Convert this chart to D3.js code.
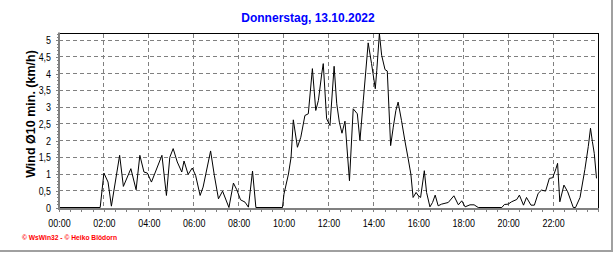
<!DOCTYPE html>
<html>
<head>
<meta charset="utf-8">
<script src="https://cdn.jsdelivr.net/npm/d3@7"></script>
<style>
  body { margin: 0; background: #fff; }
  text { font-family: Arial, "Liberation Sans", sans-serif; }
</style>
</head>
<body>
<div id="chart-area"></div>
<script>
// Wind 10 min. average - Donnerstag 13.10.2022
var titleText = "Donnerstag, 13.10.2022";
var yLabelText = "Wind Ø10 min. (km/h)";
var creditText = "© WsWin32 - © Heiko Blödorn";

// time of each point, minutes after midnight
var minutes = [0,110,120,131,140,162,172,192,206,216,227,236,247,275,287,296,305,316,328,334,
  345,356,365,377,385,405,415,426,437,454,466,475,485,497,506,517,526,597,601,613,
  620,626,637,646,657,666,677,686,693,702,706,715,724,735,742,749,756,764,776,786,
  797,804,813,826,835,845,849,856,862,871,877,886,893,900,906,915,924,933,940,946,
  954,960,966,976,982,991,998,1005,1013,1022,1040,1055,1067,1076,1085,1098,1109,1120,1183,1190,
  1200,1209,1223,1230,1241,1249,1261,1270,1280,1289,1300,1310,1319,1328,1332,1338,1349,1359,1374,1380,
  1392,1405,1414,1420,1425,1430,1436];
// wind speed km/h
var wind = [0,0,1.03,0.76,0.04,1.56,0.63,1.16,0.53,1.56,1.06,1.03,0.76,1.56,0.36,1.5,1.76,1.36,1.06,1.39,
  0.99,1.18,0.96,0.36,0.61,1.69,0.96,0.26,0.49,0,0.73,0.53,0.23,0.16,0.01,1.09,0,0,0.4,1.0,
  1.5,2.62,1.8,2.1,2.75,2.8,4.15,2.9,3.2,4.0,4.3,2.65,2.45,4.22,3.1,2.55,2.22,2.58,0.8,2.95,
  2.8,2.0,3.2,4.92,4.3,3.55,4.1,5.2,4.55,4.12,4.08,1.85,2.4,2.9,3.15,2.6,2.0,1.45,1.0,0.3,
  0.45,0.35,0.3,1.1,0.45,0.02,0.15,0.37,0.05,0.1,0.15,0.35,0.08,0.2,0.02,0.08,0.08,0,0,0.09,
  0.1,0.17,0.24,0.37,0.07,0.3,0.07,0.07,0.42,0.52,0.49,0.87,0.89,1.17,1.32,0.17,0.67,0.47,0,0,
  0.3,1.14,1.82,2.37,1.97,1.62,0.87];

var yTicks = [0,0.5,1,1.5,2,2.5,3,3.5,4,4.5,5];
var xTickHours = [0,2,4,6,8,10,12,14,16,18,20,22];

var width = 616, height = 253;
var plotLeft = 59, plotRight = 598, plotTop = 33.5, plotBottom = 207.5;

var svg = d3.select("#chart-area")
  .append("svg")
    .attr("width", width)
    .attr("height", height);

// Scales
var x = d3.scaleLinear()
  .domain([0, 1440])
  .range([plotLeft, plotRight]);
var y = d3.scaleLinear()
  .domain([0, 5.2])
  .range([plotBottom, plotTop]);

// outer grey frame (right + bottom)
svg.append("line")
  .attr("x1", 612).attr("x2", 612).attr("y1", 0).attr("y2", 252)
  .attr("stroke", "#a0a0a0").attr("stroke-width", 2);
svg.append("line")
  .attr("x1", 0).attr("x2", 613).attr("y1", 251).attr("y2", 251)
  .attr("stroke", "#a0a0a0").attr("stroke-width", 2);

// Grid
var grid = svg.append("g")
  .attr("shape-rendering", "crispEdges")
  .attr("stroke", "#808080")
  .attr("stroke-dasharray", "4,3");
grid.selectAll(".hgrid")
  .data(yTicks.filter(function(d){ return d > 0; }))
  .enter().append("line")
    .attr("class", "hgrid")
    .attr("x1", plotLeft).attr("x2", plotRight)
    .attr("y1", function(d){ return y(d); })
    .attr("y2", function(d){ return y(d); });
grid.selectAll(".vgrid")
  .data(xTickHours.filter(function(d){ return d > 0; }))
  .enter().append("line")
    .attr("class", "vgrid")
    .attr("y1", plotTop).attr("y2", plotBottom)
    .attr("x1", function(d){ return x(d * 60); })
    .attr("x2", function(d){ return x(d * 60); });

// top + right border
svg.append("path")
  .attr("d", "M" + plotLeft + "," + plotTop + "H" + plotRight + "V" + plotBottom)
  .attr("fill", "none")
  .attr("stroke", "#000")
  .attr("shape-rendering", "crispEdges");

// Line
var line = d3.line()
  .x(function(d, i){ return x(minutes[i]); })
  .y(function(d){ return y(d); });
svg.append("path")
  .datum(wind)
  .attr("d", line)
  .attr("fill", "none")
  .attr("stroke", "#000")
  .attr("stroke-width", 1);

// Axes
var pad2 = function(n){ return (n < 10 ? "0" : "") + n; };
// narrow label width like the small windows font
var narrow = function(s){
  var w = 0;
  for (var i = 0; i < s.length; i++) w += (s[i] === "," || s[i] === ":") ? 2.3 : 5;
  return w;
};

svg.append("g")
  .attr("transform", "translate(0,209)")
  .call(d3.axisBottom(x).tickValues(d3.range(0, 1441, 30)).tickSize(3).tickFormat(""));
svg.append("g")
  .attr("class", "x-axis")
  .attr("transform", "translate(0,209)")
  .call(d3.axisBottom(x)
    .tickValues(xTickHours.map(function(h){ return h * 60; }))
    .tickSize(3).tickSizeOuter(0).tickPadding(7)
    .tickFormat(function(d){ return pad2(d / 60) + ":00"; }));

svg.append("g")
  .attr("transform", "translate(" + plotLeft + ",0)")
  .call(d3.axisLeft(y).tickValues(d3.range(0, 5.21, 0.1)).tickSize(2).tickFormat(""));
svg.append("g")
  .attr("class", "y-axis")
  .attr("transform", "translate(" + plotLeft + ",0)")
  .call(d3.axisLeft(y)
    .tickValues(yTicks)
    .tickSize(3).tickSizeOuter(0).tickPadding(5)
    .tickFormat(function(d){ return String(d).replace(".", ","); }));

svg.selectAll(".domain").remove();
svg.selectAll(".tick line").attr("stroke", "#808080").attr("shape-rendering", "crispEdges");
svg.selectAll(".tick text")
  .attr("font-size", "11px")
  .attr("fill", "#000")
  .attr("font-family", "Arial, 'Liberation Sans', sans-serif")
  .attr("lengthAdjust", "spacingAndGlyphs")
  .attr("textLength", function(){ return narrow(this.textContent); });

// grey axis lines
svg.append("line")
  .attr("x1", plotLeft).attr("x2", plotLeft).attr("y1", plotTop - 1).attr("y2", 210)
  .attr("stroke", "#808080").attr("stroke-width", 2);
svg.append("line")
  .attr("x1", plotLeft - 1).attr("x2", plotRight + 1).attr("y1", 209).attr("y2", 209)
  .attr("stroke", "#808080").attr("stroke-width", 2);

// Labels
svg.append("text")
  .attr("x", 308)
  .attr("y", 22)
  .attr("text-anchor", "middle")
  .attr("font-size", "12px")
  .attr("font-weight", "bold")
  .attr("fill", "#0000ff")
  .text(titleText);

svg.append("text")
  .attr("transform", "translate(35,114) rotate(-90)")
  .attr("text-anchor", "middle")
  .attr("font-size", "12.5px")
  .attr("font-weight", "bold")
  .attr("fill", "#000")
  .text(yLabelText);

svg.append("text")
  .attr("x", 22)
  .attr("y", 240)
  .attr("font-size", "7px")
  .attr("font-weight", "bold")
  .attr("fill", "#ff0000")
  .attr("textLength", 95)
  .attr("lengthAdjust", "spacingAndGlyphs")
  .text(creditText);
</script>
</body>
</html>
